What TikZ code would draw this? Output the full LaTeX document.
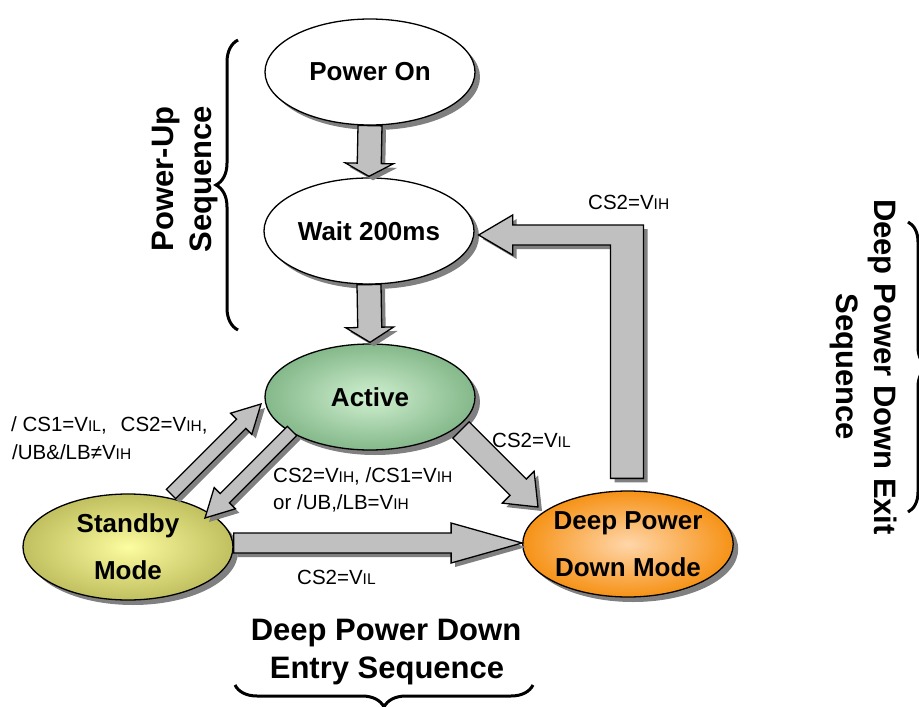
\documentclass[tikz,border=0pt]{standalone}
\usepackage{fontspec}
\setmainfont{Liberation Sans}
\usetikzlibrary{calc,shapes.geometric,shadows,decorations.pathreplacing}
\definecolor{arrowgray}{RGB}{192,192,192}
\definecolor{shadowgray}{RGB}{128,128,128}
\definecolor{actin}{RGB}{208,240,208}
\definecolor{actout}{RGB}{132,184,138}
\definecolor{sbin}{RGB}{252,252,160}
\definecolor{sbout}{RGB}{192,192,96}
\definecolor{dpin}{RGB}{255,214,170}
\definecolor{dpout}{RGB}{246,146,22}
\newcommand\lowtxt[1]{{\fontsize{15.5}{15.5}\selectfont #1}}
\newcommand\blockarrow[5]{%
  \coordinate (ba-b) at ($(#2)!#5pt!(#1)$);
  \draw[arrowbox] ($(#1)!#3pt!90:(#2)$) -- ($(ba-b)!#3pt!-90:(#1)$) -- ($(ba-b)!#4pt!-90:(#1)$) -- (#2) -- ($(ba-b)!#4pt!90:(#1)$) -- ($(ba-b)!#3pt!90:(#1)$) -- ($(#1)!#3pt!-90:(#2)$) -- cycle;}
\tikzset{
  shadowed/.style={drop shadow={shadow xshift=5pt, shadow yshift=-5pt, opacity=1, fill=shadowgray}},
  state/.style={ellipse, draw=black, line width=1.3pt, minimum width=210pt, minimum height=106pt,
    inner sep=0pt, align=center, font=\fontsize{26}{47}\selectfont\bfseries, shadowed},
  arrowbox/.style={fill=arrowgray, draw=black, line width=1.3pt, line join=miter,
    drop shadow={shadow xshift=4pt, shadow yshift=-4pt, opacity=1, fill=shadowgray}},
  lbl/.style={anchor=base west, inner sep=0pt, font=\fontsize{20.5}{24}\selectfont},
  bigtxt/.style={anchor=base, inner sep=0pt, font=\fontsize{31}{38}\selectfont\bfseries},
  bracestyle/.style={draw=black, line width=3pt, decorate}
}
\begin{document}
\begin{tikzpicture}[x=1pt, y=-1pt]
\useasboundingbox (0,0) rectangle (919,707);
% states
\node[state, fill=white] (pon) at (370,72) {Power On};
\node[state, fill=white] (wait) at (369,231) {Wait 200ms};
\node[state, shading=radial, inner color=actin, outer color=actout] (act) at (370,397) {Active};
\node[state, shading=radial, inner color=sbin, outer color=sbout] (sb) at (128,547) {Standby\\Mode};
\node[state, shading=radial, inner color=dpin, outer color=dpout] (dp) at (628,544) {Deep Power\\Down Mode};
% coordinates for arrows
\coordinate (upA) at ($(sb.center)+(43,-53)$);
\coordinate (upB) at ($(act.center)+(-109,7)$);
\coordinate (dnA) at ($(act.center)+(-78,34)$);
\coordinate (dnB) at ($(sb.center)+(77,-29)$);
\coordinate (adA) at ($(act.center)+(91,33)$);
\coordinate (adB) at ($(dp.center)+(-90,-37)$);
\coordinate (sdA) at ($(sb.east)+(0,-4)$);
\coordinate (sdB) at ($(dp.west)+(0,-1)$);
\coordinate (pwA) at (pon.south);
\coordinate (pwB) at ($(wait.north)+(0,-1)$);
\coordinate (waA) at (wait.south);
\coordinate (waB) at ($(act.north)+(0,-1)$);
\coordinate (exA) at ($(dp.north)+(-1,-12)$);
\coordinate (exTip) at ($(wait.east)+(4,4)$);
% arrows
\blockarrow{pwA}{pwB}{12}{24}{13}
\blockarrow{waA}{waB}{12}{24}{15}
\blockarrow{sdA}{sdB}{10}{20}{71}
\blockarrow{adA}{adB}{11.5}{22.5}{28}
\blockarrow{upA}{upB}{6.5}{15}{28}
\blockarrow{dnA}{dnB}{6.5}{15}{28}
\draw[arrowbox] ($(exA)+(-16.5,0)$) |- ($(exTip)+(34,10)$) -- ++(0,10) -- (exTip) -- ++(34,-20) -- ++(0,10) -| ($(exA)+(16.5,0)$) -- cycle;
% transition labels
\node[lbl] (t1a) at (11,431) {/ CS1=V\lowtxt{IL},\hspace{14pt}CS2=V\lowtxt{IH},};
\node[lbl] (t1b) at (12,459) {/UB\&/LB≠V\lowtxt{IH}};
\node[lbl] (t2a) at (273,482) {CS2=V\lowtxt{IH}, /CS1=V\lowtxt{IH}};
\node[lbl] (t2b) at (273,509) {or /UB,/LB=V\lowtxt{IH}};
\node[lbl] (t3) at (492,447) {CS2=V\lowtxt{IL}};
\node[lbl] (t4) at (588,209) {CS2=V\lowtxt{IH}};
\node[lbl] (t5) at (297,584) {CS2=V\lowtxt{IL}};
% sequence labels
\node[bigtxt, rotate=90] (pu1) at (173,179) {Power-Up};
\node[bigtxt, rotate=90] (pu2) at (211,179) {Sequence};
\node[bigtxt, rotate=-90] (ex1) at (874,367) {Deep Power Down Exit};
\node[bigtxt, rotate=-90] (ex2) at (836,367) {Sequence};
\node[bigtxt] (en1) at (386,640) {Deep Power Down};
\node[bigtxt] (en2) at (387,678) {Entry Sequence};
% braces
\draw[bracestyle, decoration={brace, amplitude=22pt}] (238,330) -- (238,40);
\draw[bracestyle, decoration={brace, amplitude=22pt}] (533,685) -- (235,685);
\draw[bracestyle, decoration={brace, amplitude=20pt}] (908,222) -- (908,512);
\end{tikzpicture}
\end{document}
